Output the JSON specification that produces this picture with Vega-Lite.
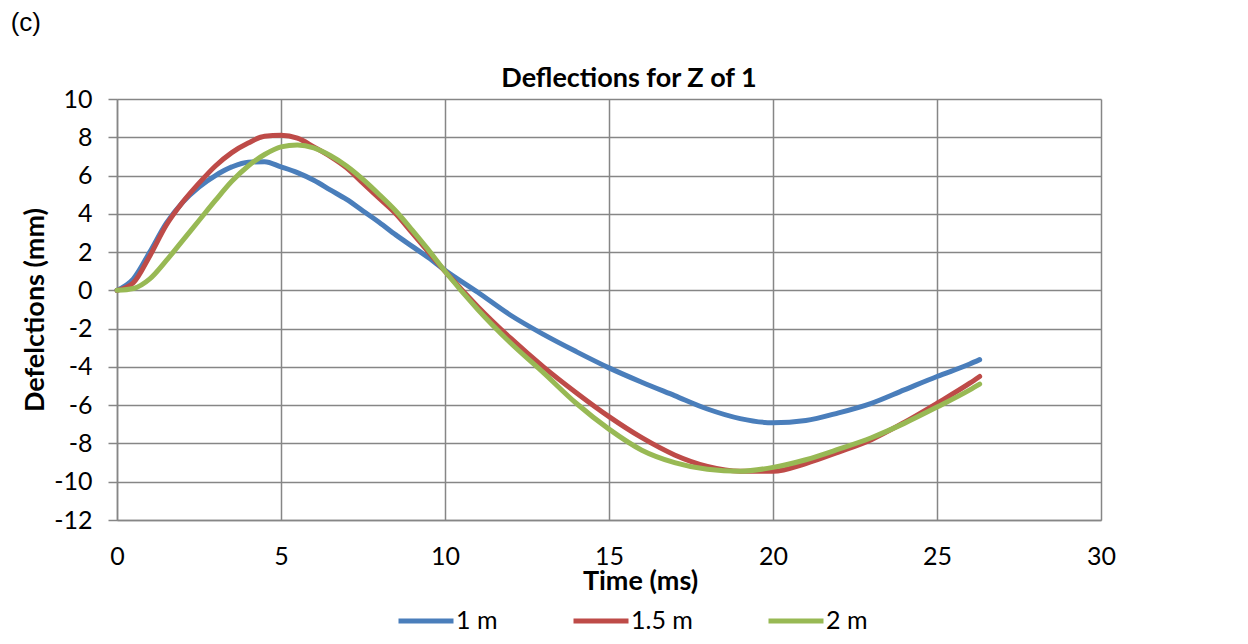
{
  "$schema": "https://vega.github.io/schema/vega-lite/v6.json",
  "background": "white",
  "padding": {"left": 10, "top": 10, "right": 10, "bottom": 5},
  "title": {"text": "(c)", "anchor": "start", "frame": "bounds", "dx": -11, "font": "Liberation Sans", "fontSize": 26, "fontWeight": "normal", "color": "#000000", "offset": 29},
  "config": {
    "font": "Lato",
    "view": {"stroke": null}
  },
  "vconcat": [
    {
      "width": 984,
      "height": 421,
      "title": {"text": "Deflections for Z of 1", "font": "Lato", "fontSize": 27, "fontWeight": "bold", "color": "#000000", "anchor": "middle", "frame": "group", "dx": 20, "offset": -6},
      "data": {"values": [
        {"t": 0, "v": 0, "s": "1 m"},
        {"t": 0.5, "v": 0.6, "s": "1 m"},
        {"t": 1, "v": 2.0, "s": "1 m"},
        {"t": 1.5, "v": 3.5, "s": "1 m"},
        {"t": 2, "v": 4.6, "s": "1 m"},
        {"t": 2.5, "v": 5.4, "s": "1 m"},
        {"t": 3, "v": 6.0, "s": "1 m"},
        {"t": 3.5, "v": 6.45, "s": "1 m"},
        {"t": 4, "v": 6.7, "s": "1 m"},
        {"t": 4.5, "v": 6.72, "s": "1 m"},
        {"t": 5, "v": 6.45, "s": "1 m"},
        {"t": 5.5, "v": 6.15, "s": "1 m"},
        {"t": 6, "v": 5.75, "s": "1 m"},
        {"t": 6.5, "v": 5.25, "s": "1 m"},
        {"t": 7, "v": 4.75, "s": "1 m"},
        {"t": 7.5, "v": 4.15, "s": "1 m"},
        {"t": 8, "v": 3.55, "s": "1 m"},
        {"t": 8.5, "v": 2.9, "s": "1 m"},
        {"t": 9, "v": 2.3, "s": "1 m"},
        {"t": 9.5, "v": 1.7, "s": "1 m"},
        {"t": 10, "v": 1.05, "s": "1 m"},
        {"t": 11, "v": -0.1, "s": "1 m"},
        {"t": 12, "v": -1.3, "s": "1 m"},
        {"t": 13, "v": -2.3, "s": "1 m"},
        {"t": 14, "v": -3.2, "s": "1 m"},
        {"t": 15, "v": -4.05, "s": "1 m"},
        {"t": 16, "v": -4.8, "s": "1 m"},
        {"t": 17, "v": -5.5, "s": "1 m"},
        {"t": 18, "v": -6.2, "s": "1 m"},
        {"t": 19, "v": -6.7, "s": "1 m"},
        {"t": 20, "v": -6.92, "s": "1 m"},
        {"t": 21, "v": -6.8, "s": "1 m"},
        {"t": 22, "v": -6.4, "s": "1 m"},
        {"t": 23, "v": -5.9, "s": "1 m"},
        {"t": 24, "v": -5.2, "s": "1 m"},
        {"t": 25, "v": -4.5, "s": "1 m"},
        {"t": 26, "v": -3.85, "s": "1 m"},
        {"t": 26.3, "v": -3.62, "s": "1 m"},
        {"t": 0, "v": 0, "s": "1.5 m"},
        {"t": 0.5, "v": 0.4, "s": "1.5 m"},
        {"t": 1, "v": 1.8, "s": "1.5 m"},
        {"t": 1.5, "v": 3.4, "s": "1.5 m"},
        {"t": 2, "v": 4.6, "s": "1.5 m"},
        {"t": 2.5, "v": 5.6, "s": "1.5 m"},
        {"t": 3, "v": 6.5, "s": "1.5 m"},
        {"t": 3.5, "v": 7.2, "s": "1.5 m"},
        {"t": 4, "v": 7.7, "s": "1.5 m"},
        {"t": 4.5, "v": 8.05, "s": "1.5 m"},
        {"t": 5, "v": 8.1, "s": "1.5 m"},
        {"t": 5.5, "v": 7.95, "s": "1.5 m"},
        {"t": 6, "v": 7.5, "s": "1.5 m"},
        {"t": 6.5, "v": 7.0, "s": "1.5 m"},
        {"t": 7, "v": 6.4, "s": "1.5 m"},
        {"t": 7.5, "v": 5.6, "s": "1.5 m"},
        {"t": 8, "v": 4.8, "s": "1.5 m"},
        {"t": 8.5, "v": 4.0, "s": "1.5 m"},
        {"t": 9, "v": 3.0, "s": "1.5 m"},
        {"t": 9.5, "v": 2.0, "s": "1.5 m"},
        {"t": 10, "v": 1.0, "s": "1.5 m"},
        {"t": 11, "v": -0.85, "s": "1.5 m"},
        {"t": 12, "v": -2.5, "s": "1.5 m"},
        {"t": 13, "v": -4.0, "s": "1.5 m"},
        {"t": 14, "v": -5.35, "s": "1.5 m"},
        {"t": 15, "v": -6.6, "s": "1.5 m"},
        {"t": 16, "v": -7.7, "s": "1.5 m"},
        {"t": 17, "v": -8.6, "s": "1.5 m"},
        {"t": 18, "v": -9.2, "s": "1.5 m"},
        {"t": 19, "v": -9.45, "s": "1.5 m"},
        {"t": 20, "v": -9.45, "s": "1.5 m"},
        {"t": 21, "v": -9.05, "s": "1.5 m"},
        {"t": 22, "v": -8.45, "s": "1.5 m"},
        {"t": 23, "v": -7.8, "s": "1.5 m"},
        {"t": 24, "v": -6.9, "s": "1.5 m"},
        {"t": 25, "v": -5.9, "s": "1.5 m"},
        {"t": 26, "v": -4.85, "s": "1.5 m"},
        {"t": 26.3, "v": -4.5, "s": "1.5 m"},
        {"t": 0, "v": 0, "s": "2 m"},
        {"t": 0.5, "v": 0.1, "s": "2 m"},
        {"t": 1, "v": 0.6, "s": "2 m"},
        {"t": 1.5, "v": 1.55, "s": "2 m"},
        {"t": 2, "v": 2.6, "s": "2 m"},
        {"t": 2.5, "v": 3.65, "s": "2 m"},
        {"t": 3, "v": 4.7, "s": "2 m"},
        {"t": 3.5, "v": 5.7, "s": "2 m"},
        {"t": 4, "v": 6.5, "s": "2 m"},
        {"t": 4.5, "v": 7.1, "s": "2 m"},
        {"t": 5, "v": 7.5, "s": "2 m"},
        {"t": 5.5, "v": 7.6, "s": "2 m"},
        {"t": 6, "v": 7.45, "s": "2 m"},
        {"t": 6.5, "v": 7.05, "s": "2 m"},
        {"t": 7, "v": 6.5, "s": "2 m"},
        {"t": 7.5, "v": 5.8, "s": "2 m"},
        {"t": 8, "v": 5.0, "s": "2 m"},
        {"t": 8.5, "v": 4.15, "s": "2 m"},
        {"t": 9, "v": 3.15, "s": "2 m"},
        {"t": 9.5, "v": 2.1, "s": "2 m"},
        {"t": 10, "v": 1.0, "s": "2 m"},
        {"t": 11, "v": -1.0, "s": "2 m"},
        {"t": 12, "v": -2.75, "s": "2 m"},
        {"t": 13, "v": -4.3, "s": "2 m"},
        {"t": 14, "v": -5.9, "s": "2 m"},
        {"t": 15, "v": -7.25, "s": "2 m"},
        {"t": 16, "v": -8.35, "s": "2 m"},
        {"t": 17, "v": -9.0, "s": "2 m"},
        {"t": 18, "v": -9.35, "s": "2 m"},
        {"t": 19, "v": -9.45, "s": "2 m"},
        {"t": 20, "v": -9.25, "s": "2 m"},
        {"t": 21, "v": -8.85, "s": "2 m"},
        {"t": 22, "v": -8.3, "s": "2 m"},
        {"t": 23, "v": -7.7, "s": "2 m"},
        {"t": 24, "v": -6.95, "s": "2 m"},
        {"t": 25, "v": -6.1, "s": "2 m"},
        {"t": 26, "v": -5.2, "s": "2 m"},
        {"t": 26.3, "v": -4.9, "s": "2 m"}
      ]},
      "mark": {"type": "line", "strokeWidth": 5, "strokeCap": "round", "strokeJoin": "round", "interpolate": "monotone"},
      "encoding": {
        "x": {
          "field": "t", "type": "quantitative",
          "scale": {"domain": [0, 30], "nice": false, "zero": false},
          "axis": {
            "title": "Time (ms)", "values": [0, 5, 10, 15, 20, 25, 30],
            "labelFlush": false,
            "grid": true, "gridColor": "#868686", "gridWidth": 1.5, "gridOpacity": 1,
            "domainColor": "#868686", "domainWidth": 1.5,
            "ticks": false,
            "labelFont": "Lato", "labelFontSize": 25, "labelColor": "#000000", "labelPadding": 24,
            "titleFont": "Lato", "titleFontSize": 27, "titleFontWeight": "bold", "titleColor": "#000000",
            "titlePadding": -1, "titleX": 523
          }
        },
        "y": {
          "field": "v", "type": "quantitative",
          "scale": {"domain": [-12, 10], "nice": false, "zero": false},
          "axis": {
            "title": "Defelctions (mm)", "values": [-12, -10, -8, -6, -4, -2, 0, 2, 4, 6, 8, 10],
            "labelFlush": false,
            "labelExpr": "replace(datum.label, '\u2212', '-')",
            "grid": true, "gridColor": "#868686", "gridWidth": 1.5, "gridOpacity": 1,
            "domainColor": "#868686", "domainWidth": 1.5,
            "ticks": true, "tickColor": "#868686", "tickWidth": 1.5, "tickSize": 9,
            "labelFont": "Lato", "labelFontSize": 25, "labelColor": "#000000", "labelPadding": 16,
            "titleFont": "Lato", "titleFontSize": 27, "titleFontWeight": "bold", "titleColor": "#000000",
            "titlePadding": 4
          }
        },
        "color": {
          "field": "s", "type": "nominal",
          "scale": {"domain": ["1 m", "1.5 m", "2 m"], "range": ["#4A7EBB", "#BE4B48", "#98B954"]},
          "legend": {
            "title": null, "orient": "none", "direction": "horizontal",
            "legendX": 279, "legendY": 492,
            "symbolType": "stroke", "symbolStrokeWidth": 5, "symbolSize": 3025,
            "labelFont": "Lato", "labelFontSize": 25, "labelColor": "#000000",
            "labelOffset": 0, "columnPadding": 65
          }
        }
      }
    }
  ]
}
